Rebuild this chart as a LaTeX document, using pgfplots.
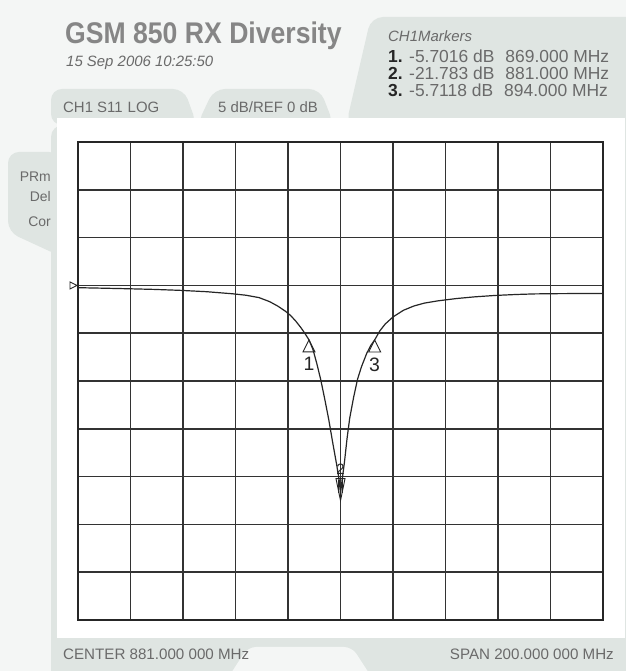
\documentclass[border=0pt]{standalone}
\usepackage{pgfplots}
\pgfplotsset{compat=1.18}
\usepackage{fontspec}
\setmainfont{Liberation Sans}
\newfontfamily\titlefont[FakeStretch=0.89]{Liberation Sans}
\definecolor{bgc}{HTML}{F4F6F5}
\definecolor{panel}{HTML}{DFE5E2}
\definecolor{txt}{HTML}{6A6A6A}
\definecolor{ttl}{HTML}{868686}
\definecolor{trace}{HTML}{262626}

\pgfdeclareplotmark{mkup}{%
  \pgfpathmoveto{\pgfpoint{0bp}{0bp}}%
  \pgfpathlineto{\pgfpoint{-6bp}{-12bp}}%
  \pgfpathlineto{\pgfpoint{6bp}{-12bp}}%
  \pgfpathclose\pgfusepathqstroke}
\pgfdeclareplotmark{mkdown}{%
  \pgfpathmoveto{\pgfpoint{-4.5bp}{15bp}}%
  \pgfpathlineto{\pgfpoint{4.5bp}{15bp}}%
  \pgfpathlineto{\pgfpoint{0bp}{-7bp}}%
  \pgfpathclose\pgfusepathqstroke
  \pgfpathmoveto{\pgfpoint{-1.8bp}{14bp}}\pgfpathlineto{\pgfpoint{-1.8bp}{1bp}}%
  \pgfpathmoveto{\pgfpoint{1.8bp}{14bp}}\pgfpathlineto{\pgfpoint{1.8bp}{1bp}}%
  \pgfusepathqstroke}
\pgfdeclareplotmark{mkref}{%
  \pgfpathmoveto{\pgfpoint{-1bp}{0bp}}%
  \pgfpathlineto{\pgfpoint{-8bp}{3.5bp}}%
  \pgfpathlineto{\pgfpoint{-8bp}{-3.5bp}}%
  \pgfpathclose\pgfusepathqstroke}

\begin{document}
\begin{tikzpicture}[x=1bp,y=1bp]
\useasboundingbox (0,0) rectangle (626,671);
\clip (0,0) rectangle (626,671);
% background
\fill[bgc] (0,0) rectangle (626,671);
% markers panel (top right)
\fill[panel, rounded corners=12bp] (346,671-125) -- (371,671-17) -- (640,671-17) -- (640,671-125) -- cycle;
% main frame
\fill[panel, rounded corners=12bp] (51,-20) -- (51,671-125) -- (640,671-125) -- (640,-20) -- cycle;
% tab 1
\fill[panel, rounded corners=11bp] (51,671-125) -- (51,671-89) -- (184,671-89) -- (197,671-125) -- cycle;
% tab 2
\fill[panel, rounded corners=11bp] (197,671-125) -- (214,671-89) -- (320,671-89) -- (334,671-125) -- cycle;
% left tab
\fill[panel, rounded corners=11bp] (60,671-152) -- (8,671-152) -- (8,671-232) -- (60,671-256) -- cycle;
% white plot area
\fill[white] (57,671-638) rectangle (625,671-118);
% bottom light tab
\fill[bgc, rounded corners=8bp] (226,-10) -- (248,671-647) -- (352,671-647) -- (374,-10) -- cycle;

% texts
\node[anchor=base west, inner sep=0, text=ttl, font=\titlefont\bfseries\fontsize{30}{31}\selectfont] at (65,671-44) {GSM 850 RX Diversity};
\node[anchor=base west, inner sep=0, text=txt, font=\itshape\fontsize{15}{16}\selectfont] at (66,671-67) {15 Sep 2006 10:25:50};
\node[anchor=base west, inner sep=0, text=txt, font=\itshape\fontsize{15}{16}\selectfont] at (388,671-42) {CH1Markers};
\node[anchor=base west, inner sep=0, text=txt, font=\fontsize{17.5}{18}\selectfont] at (388,671-63) {\textcolor{trace}{\textbf{1.}} -5.7016 dB\hspace{11bp}869.000 MHz};
\node[anchor=base west, inner sep=0, text=txt, font=\fontsize{17.5}{18}\selectfont] at (388,671-80) {\textcolor{trace}{\textbf{2.}} -21.783 dB\hspace{11bp}881.000 MHz};
\node[anchor=base west, inner sep=0, text=txt, font=\fontsize{17.5}{18}\selectfont] at (388,671-97) {\textcolor{trace}{\textbf{3.}} -5.7118 dB\hspace{11bp}894.000 MHz};
\node[anchor=base west, inner sep=0, text=txt, font=\fontsize{15}{16}\selectfont] at (63,671-113) {CH1 S11\hspace{5bp}LOG};
\node[anchor=base west, inner sep=0, text=txt, font=\fontsize{15}{16}\selectfont] at (218,671-113) {5 dB/REF 0 dB};
\node[anchor=base east, inner sep=0, text=txt, font=\fontsize{14}{15}\selectfont] at (51,671-182) {PRm};
\node[anchor=base east, inner sep=0, text=txt, font=\fontsize{14}{15}\selectfont] at (51,671-202) {Del};
\node[anchor=base east, inner sep=0, text=txt, font=\fontsize{14}{15}\selectfont] at (51,671-227) {Cor};
\node[anchor=base west, inner sep=0, text=txt, font=\fontsize{15.2}{16}\selectfont] at (63,671-660) {CENTER 881.000 000 MHz};
\node[anchor=base east, inner sep=0, text=txt, font=\fontsize{15.2}{16}\selectfont] at (614,671-660) {SPAN 200.000 000 MHz};

\begin{axis}[
  at={(78bp,51bp)}, anchor=south west,
  scale only axis, width=525bp, height=478bp,
  xmin=781, xmax=981, ymin=-35, ymax=15,
  xtick={781,801,821,841,861,881,901,921,941,961,981},
  ytick={-35,-30,-25,-20,-15,-10,-5,0,5,10,15},
  xticklabels={}, yticklabels={},
  major tick length=0pt,
  grid=major,
  grid style={line width=1.7bp, draw=black!80},
  axis line style={line width=2bp, draw=black!85},
  clip=false,
]
\addplot[line width=1.2bp, trace] coordinates {
(781,-0.24) (790,-0.29) (800,-0.35) (810,-0.42) (820,-0.52) (830,-0.66)
(840,-0.88) (845,-1.03) (850,-1.28) (854,-1.70) (857,-2.15) (860,-2.70)
(862,-3.15) (864,-3.75) (866,-4.45) (867.5,-5.05) (869,-5.70) (870.5,-6.70)
(872,-8.20) (873.5,-9.90) (875,-11.9) (876.5,-14.0) (878,-16.4) (879.5,-18.7)
(880.5,-20.4) (881,-21.78) (881.5,-20.6) (882.5,-18.5) (883.5,-16.0) (884.5,-13.9)
(886,-11.7) (887.5,-9.8) (889,-8.5) (891,-7.1) (892.5,-6.3) (894,-5.71)
(896,-4.75) (898,-4.05) (901,-3.30) (905,-2.60) (909,-2.15) (913,-1.85)
(918,-1.62) (925,-1.38) (932,-1.20) (940,-1.05) (948,-0.95) (955,-0.89)
(965,-0.86) (981,-0.85)
};
\addplot[only marks, mark=mkup, mark options={line width=0.9bp, draw=trace},
  nodes near coords, point meta=explicit symbolic,
  every node near coord/.style={anchor=north, inner sep=0pt, yshift=-17bp, text=trace, font=\fontsize{19.5}{20}\selectfont}]
  coordinates {(869,-5.7016) [1] (894,-5.7118) [3]};
\addplot[only marks, mark=mkdown, mark options={line width=0.9bp, draw=trace},
  nodes near coords, point meta=explicit symbolic,
  every node near coord/.style={anchor=center, inner sep=0pt, yshift=24bp, text=trace, font=\fontsize{15}{16}\selectfont}]
  coordinates {(881,-21.783) [2]};
\addplot[only marks, mark=mkref, mark options={line width=0.9bp, draw=trace}]
  coordinates {(781,0)};
\end{axis}
\end{tikzpicture}
\end{document}
